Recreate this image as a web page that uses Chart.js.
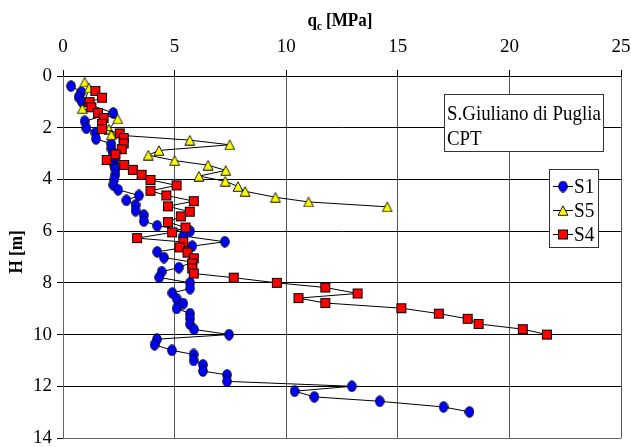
<!DOCTYPE html>
<html><head><meta charset="utf-8">
<script src="https://cdn.jsdelivr.net/npm/chart.js@4"></script>
<style>html,body{margin:0;padding:0;background:#fff}#wrap{position:relative;width:631px;height:447px}</style>
</head><body><div id="wrap"><canvas id="c" width="631" height="447"></canvas></div>
<script>
// ---- data ----
const xTicks = [0, 5, 10, 15, 20, 25];
const yTicks = [0, 2, 4, 6, 8, 10, 12, 14];
const seriesNames = ['S1', 'S5', 'S4'];

const s1Q = [0.36,0.82,0.70,0.85,2.25,0.97,1.05,1.45,1.48,2.16,2.17,2.25,2.32,2.28,2.35,2.35,2.30,2.25,2.47,3.40,2.84,3.25,3.25,3.62,3.62,4.22,5.69,5.39,7.25,5.79,4.22,4.52,5.79,5.19,4.42,4.31,5.69,5.69,4.90,5.09,5.39,5.09,5.69,5.69,5.69,5.87,7.44,4.21,4.10,4.88,5.85,5.85,6.27,6.27,7.35,7.35,12.94,10.38,11.26,14.19,17.05,18.21];
const s1H = [0.39,0.62,0.81,1.00,1.43,1.75,2.02,2.20,2.43,2.62,2.81,3.00,3.21,3.43,3.60,3.81,4.00,4.21,4.40,4.62,4.81,4.99,5.21,5.38,5.61,5.79,6.00,6.19,6.41,6.58,6.80,7.02,7.20,7.41,7.57,7.79,8.00,8.22,8.39,8.61,8.80,8.99,9.19,9.38,9.60,9.80,10.00,10.18,10.39,10.61,10.77,11.00,11.17,11.41,11.56,11.81,12.00,12.19,12.41,12.58,12.80,12.99];

const s5Q = [0.97,1.17,0.87,2.45,2.05,2.17,5.68,7.47,4.30,3.82,5.00,6.50,7.29,6.09,7.27,7.84,8.16,9.52,11.00,14.53];
const s5H = [0.23,0.46,1.26,1.66,2.05,2.27,2.48,2.66,2.88,3.06,3.27,3.45,3.65,3.87,4.07,4.27,4.46,4.69,4.87,5.06];

const s4Q = [1.45,1.75,1.19,1.27,1.57,1.82,1.75,1.75,2.54,2.72,2.72,2.63,2.35,1.96,2.74,3.13,3.52,3.92,5.09,3.92,4.63,5.86,4.70,5.68,5.28,4.70,5.49,4.89,3.32,5.39,5.22,5.58,5.86,5.79,5.79,5.86,7.65,9.58,11.75,13.20,10.55,11.75,15.16,16.84,18.13,18.62,20.60,21.68];
const s4H = [0.58,0.84,1.01,1.21,1.43,1.62,1.85,2.05,2.22,2.40,2.61,2.83,3.03,3.25,3.44,3.63,3.82,4.02,4.23,4.44,4.62,4.84,5.04,5.25,5.43,5.65,5.86,6.05,6.27,6.42,6.63,6.83,7.05,7.25,7.44,7.64,7.80,8.00,8.18,8.41,8.59,8.78,8.98,9.19,9.39,9.59,9.79,10.00];

// ---- markers ----
function mk(w, h, draw) { const c = document.createElement('canvas'); c.width = w; c.height = h; draw(c.getContext('2d')); return c; }
const circ = mk(10, 12, g => { g.beginPath(); g.ellipse(5, 6, 4.3, 5.3, 0, 0, Math.PI * 2); g.fillStyle = '#0000ff'; g.fill(); g.lineWidth = 0.9; g.strokeStyle = '#000'; g.stroke(); });
const tri = mk(12, 11, g => { g.beginPath(); g.moveTo(6, 0.8); g.lineTo(10.9, 10.3); g.lineTo(1.1, 10.3); g.closePath(); g.fillStyle = '#ffff00'; g.fill(); g.lineWidth = 0.9; g.strokeStyle = '#000'; g.stroke(); });
const sq = mk(12, 12, g => { g.fillStyle = '#ff0000'; g.fillRect(1, 1, 10, 10); g.lineWidth = 1; g.strokeStyle = '#000'; g.strokeRect(1.5, 1.5, 9, 9); });

const pts = (q, h) => q.map((v, i) => ({ x: v, y: h[i] }));
const SERIF = '"Liberation Serif", "Times New Roman", serif';

const deco = {
  id: 'deco',
  afterDraw(ch) {
    const g = ch.ctx;
    g.save();
    g.fillStyle = '#000';
    // x title q_c [MPa]
    g.save();
    g.translate(340, 0); g.scale(0.9, 1);
    g.font = 'bold 19px ' + SERIF;
    const wq = g.measureText('q').width, wr = g.measureText(' [MPa]').width;
    g.font = 'bold 12px ' + SERIF;
    const wc = g.measureText('c').width;
    let x0 = -(wq + wc + wr) / 2;
    g.textBaseline = 'alphabetic'; g.textAlign = 'left';
    g.font = 'bold 19px ' + SERIF; g.fillText('q', x0, 26);
    g.font = 'bold 12px ' + SERIF; g.fillText('c', x0 + wq, 30);
    g.font = 'bold 19px ' + SERIF; g.fillText(' [MPa]', x0 + wq + wc, 26);
    g.restore();
    // y title
    g.save();
    g.translate(17, 252); g.rotate(-Math.PI / 2); g.scale(0.9, 1);
    g.font = 'bold 19px ' + SERIF; g.textAlign = 'center'; g.textBaseline = 'middle';
    g.fillText('H [m]', 0, 0);
    g.restore();
    // text box
    g.fillStyle = '#fff'; g.fillRect(444.5, 94.5, 159, 57);
    g.strokeStyle = '#333'; g.lineWidth = 1; g.strokeRect(444.5, 94.5, 159, 57);
    g.save();
    g.translate(447, 0); g.scale(0.9, 1);
    g.fillStyle = '#000'; g.font = '21px ' + SERIF; g.textAlign = 'left'; g.textBaseline = 'alphabetic';
    g.fillText('S.Giuliano di Puglia', 0, 120);
    g.fillText('CPT', 0, 145);
    g.restore();
    // legend
    g.fillStyle = '#fff'; g.fillRect(549.5, 169.5, 49, 78);
    g.strokeStyle = '#333'; g.strokeRect(549.5, 169.5, 49, 78);
    const imgs = [circ, tri, sq];
    [186, 210, 234].forEach((yy, i) => {
      g.strokeStyle = '#000'; g.lineWidth = 1;
      g.beginPath(); g.moveTo(553, yy + 0.5); g.lineTo(573, yy + 0.5); g.stroke();
      const im = imgs[i];
      g.drawImage(im, 563 - im.width / 2, yy - im.height / 2 + 0.5);
      g.save(); g.translate(574, 0); g.scale(0.92, 1);
      g.fillStyle = '#000'; g.font = '21px ' + SERIF; g.textAlign = 'left'; g.textBaseline = 'middle';
      g.fillText(seriesNames[i], 0, yy + 1);
      g.restore();
    });
    g.restore();
  }
};

new Chart(document.getElementById('c'), {
  type: 'scatter',
  data: {
    datasets: [
      { label: seriesNames[0], data: pts(s1Q, s1H), showLine: true, borderColor: '#000', borderWidth: 1, pointStyle: circ, pointRadius: 5, order: 3 },
      { label: seriesNames[1], data: pts(s5Q, s5H), showLine: true, borderColor: '#000', borderWidth: 1, pointStyle: tri, pointRadius: 5, order: 2 },
      { label: seriesNames[2], data: pts(s4Q, s4H), showLine: true, borderColor: '#000', borderWidth: 1, pointStyle: sq, pointRadius: 5, order: 1 }
    ]
  },
  options: {
    responsive: false, animation: false, events: [],
    layout: { padding: { left: 0, right: 0, top: 0, bottom: 0 } },
    plugins: { legend: { display: false }, tooltip: { enabled: false } },
    scales: {
      x: {
        type: 'linear', position: 'top', min: 0, max: 25,
        afterBuildTicks: s => { s.ticks = xTicks.map(v => ({ value: v })); },
        afterFit: s => { s.height = 76; s.paddingRight = 10; },
        ticks: { font: { family: SERIF, size: 19 }, color: '#000', padding: 12 },
        grid: { color: '#555', tickColor: '#000', tickLength: 6, lineWidth: 1 },
        border: { color: '#000' }
      },
      y: {
        type: 'linear', reverse: true, min: 0, max: 14,
        afterBuildTicks: s => { s.ticks = yTicks.map(v => ({ value: v })); },
        afterFit: s => { s.width = 63; s.paddingBottom = 9; },
        ticks: { font: { family: SERIF, size: 19 }, color: '#000', padding: 5 },
        grid: { color: c => (c.tick && c.tick.value === 14) ? '#666' : '#000', tickColor: '#000', tickLength: 6, lineWidth: 1 },
        border: { color: '#666' }
      }
    }
  },
  plugins: [deco]
});
</script>
</body></html>
